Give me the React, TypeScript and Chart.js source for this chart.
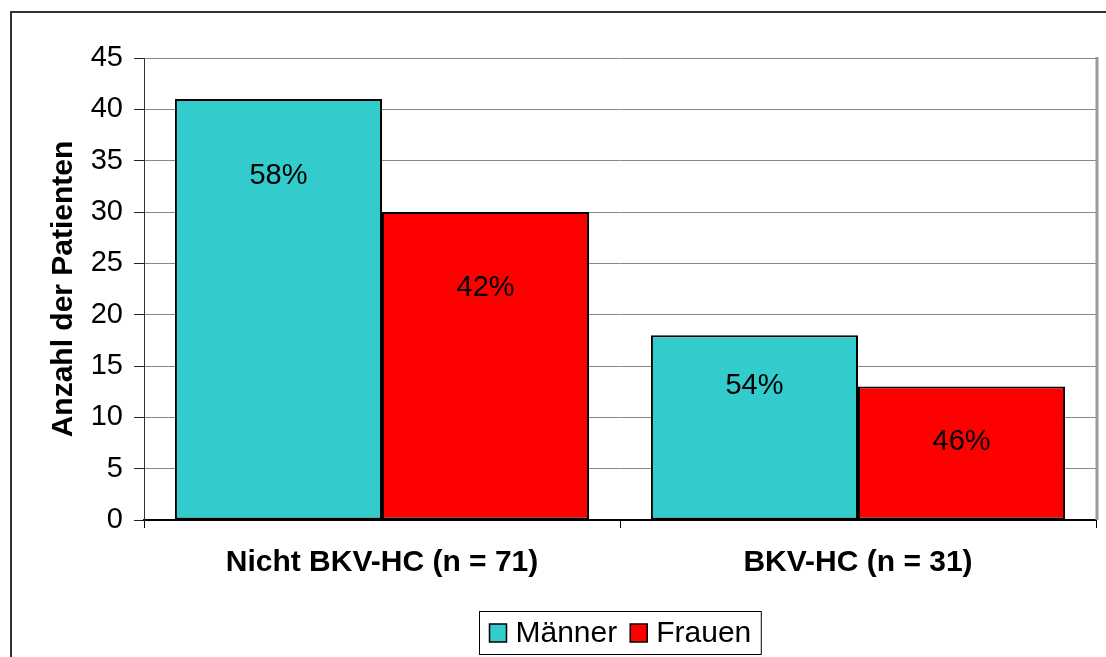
import React, { useEffect, useRef } from "react";
import { Chart, registerables } from "chart.js";

Chart.register(...registerables);

// Patients by group and sex
const categories = ["Nicht BKV-HC (n = 71)", "BKV-HC (n = 31)"];
const seriesNames = ["Männer", "Frauen"];
const maenner = [41, 18];
const frauen = [30, 13];
const maennerPct = ["58%", "54%"];
const frauenPct = ["42%", "46%"];
// vertical anchor (in axis units) of each percentage label
const maennerPctAt = [33.5, 13.1];
const frauenPctAt = [22.6, 7.6];
const yMin = 0;
const yMax = 45;
const yStep = 5;
const yTitle = "Anzahl der Patienten";

const FONT = "'Liberation Sans', Arial, Helvetica, sans-serif";
const TEAL = "#33CCCC";
const RED = "#FF0000";

const pctLabels = {
  id: "pctLabels",
  afterDatasetsDraw(chart: any) {
    const { ctx } = chart;
    const yScale = chart.scales.y;
    const texts = [maennerPct, frauenPct];
    const anchors = [maennerPctAt, frauenPctAt];
    ctx.save();
    ctx.font = `29px ${FONT}`;
    ctx.fillStyle = "#000";
    ctx.textAlign = "center";
    ctx.textBaseline = "middle";
    chart.data.datasets.forEach((_: any, di: number) => {
      const meta = chart.getDatasetMeta(di);
      meta.data.forEach((bar: any, i: number) => {
        ctx.fillText(texts[di][i], bar.x, yScale.getPixelForValue(anchors[di][i]));
      });
    });
    ctx.restore();
  },
};

const frameRight = {
  id: "frameRight",
  beforeDatasetsDraw(chart: any) {
    const { ctx, chartArea } = chart;
    ctx.save();
    ctx.strokeStyle = "#999";
    ctx.lineWidth = 3;
    ctx.beginPath();
    ctx.moveTo(chartArea.right + 1, chartArea.top - 1);
    ctx.lineTo(chartArea.right + 1, chartArea.bottom);
    ctx.stroke();
    ctx.restore();
  },
};

const boxLegend = {
  id: "boxLegend",
  afterDraw(chart: any) {
    const { ctx } = chart;
    const sets = chart.data.datasets;
    ctx.save();
    ctx.font = `30px ${FONT}`;
    const sq = 17;
    const gapSq = 9;
    const gapItem = 13;
    const padX = 10;
    const widths = sets.map((d: any) => ctx.measureText(d.label).width);
    const total =
      padX * 2 +
      widths.reduce((a: number, w: number) => a + sq + gapSq + w, 0) +
      gapItem * (sets.length - 1);
    const cx = (chart.chartArea.left + chart.chartArea.right) / 2;
    const boxL = Math.round(cx - total / 2) + 0.5;
    const boxT = 611.5;
    const boxH = 43;
    ctx.fillStyle = "#fff";
    ctx.fillRect(boxL, boxT, total, boxH);
    ctx.strokeStyle = "#000";
    ctx.lineWidth = 1;
    ctx.strokeRect(boxL, boxT, total, boxH);
    let x = boxL + padX;
    const cy = boxT + boxH / 2;
    sets.forEach((d: any, i: number) => {
      ctx.fillStyle = d.backgroundColor;
      ctx.fillRect(x, cy - 9, sq, 18);
      ctx.strokeStyle = "#000";
      ctx.lineWidth = 1.5;
      ctx.strokeRect(x, cy - 9, sq, 18);
      x += sq + gapSq;
      ctx.fillStyle = "#000";
      ctx.textAlign = "left";
      ctx.textBaseline = "middle";
      ctx.fillText(d.label, x, cy + 1);
      x += widths[i] + gapItem;
    });
    ctx.restore();
  },
};

export default function App() {
  const ref = useRef<HTMLCanvasElement | null>(null);

  useEffect(() => {
    if (!ref.current) return;
    const chart = new Chart(ref.current, {
      type: "bar",
      data: {
        labels: categories,
        datasets: [
          {
            label: seriesNames[0],
            data: maenner,
            backgroundColor: TEAL,
            borderColor: "#000",
            borderWidth: 2,
            borderSkipped: false,
          },
          {
            label: seriesNames[1],
            data: frauen,
            backgroundColor: RED,
            borderColor: "#000",
            borderWidth: 2,
            borderSkipped: false,
          },
        ],
      },
      options: {
        animation: false,
        responsive: false,
        devicePixelRatio: 1,
        layout: { padding: { left: 0, top: 58, right: 10, bottom: 0 } },
        datasets: { bar: { categoryPercentage: 0.87, barPercentage: 1 } },
        plugins: {
          legend: { display: false },
          tooltip: { enabled: false },
        },
        scales: {
          x: {
            afterFit(scale: any) {
              scale.height = 137;
            },
            grid: {
              offset: true,
              drawOnChartArea: false,
              drawTicks: true,
              tickLength: 8,
              tickColor: "#000",
            },
            border: { display: true, color: "#000", width: 2 },
            ticks: {
              color: "#000",
              padding: 17,
              font: { family: FONT, size: 30, weight: "bold" },
            },
          },
          y: {
            min: yMin,
            max: yMax,
            afterFit(scale: any) {
              scale.width = 144;
            },
            grid: {
              color: "#888",
              lineWidth: 1,
              tickLength: 10,
              tickColor: "#222",
            },
            border: { display: true, color: "#333", width: 1 },
            ticks: {
              stepSize: yStep,
              color: "#000",
              padding: 11,
              font: { family: FONT, size: 29 },
            },
            title: {
              display: true,
              text: yTitle,
              color: "#000",
              padding: { top: 46, bottom: 0 },
              font: { family: FONT, size: 30, weight: "bold" },
            },
          },
        },
      },
      plugins: [frameRight, pctLabels, boxLegend],
    });
    return () => chart.destroy();
  }, []);

  return (
    <div style={{ position: "absolute", left: 0, top: 0, width: 1106, height: 657, overflow: "hidden", background: "#fff" }}>
      <div
        style={{
          position: "absolute",
          left: 10,
          top: 11,
          width: 1200,
          height: 700,
          borderLeft: "2px solid #333",
          borderTop: "2px solid #333",
        }}
      />
      <canvas ref={ref} width={1106} height={657} style={{ position: "absolute", left: 0, top: 0, display: "block" }} />
    </div>
  );
}
